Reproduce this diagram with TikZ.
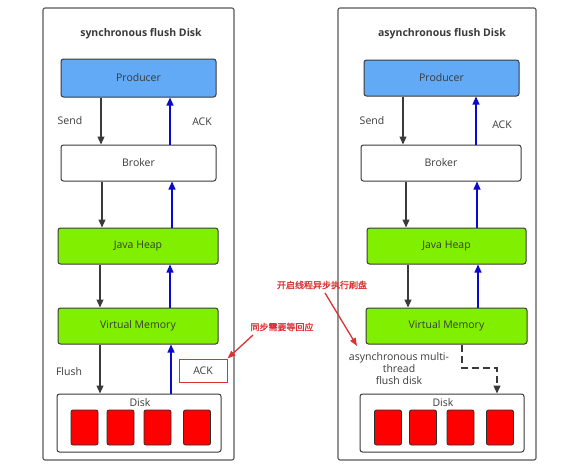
\documentclass[tikz,border=0pt]{standalone}
\usepackage{fontspec}
\setmainfont{Open Sans}
\newfontfamily\cjk[AutoFakeBold=1.5]{Noto Sans CJK SC}
\usetikzlibrary{arrows.meta, positioning, calc}

\definecolor{prodblue}{HTML}{62A9F6}
\definecolor{heapgreen}{HTML}{80F000}
\definecolor{diskred}{HTML}{FF0000}
\definecolor{ackblue}{HTML}{0A0ACC}
\definecolor{linegray}{HTML}{3A3A3A}
\definecolor{notered}{HTML}{D93333}

\tikzset{
  panel/.style={draw=linegray!85, line width=1.1pt, rounded corners=2pt},
  box/.style={draw=linegray, line width=1pt, rounded corners=2.5pt, text=linegray,
    font=\fontsize{10.5}{12}\selectfont},
  block/.style={draw=linegray!80!black, line width=0.8pt, rounded corners=2pt, fill=diskred,
    minimum width=27, minimum height=35},
  sendarrow/.style={-{Triangle[length=8pt,width=7pt,fill=linegray]}, line width=1.1pt, draw=linegray},
  ackarrow/.style={-{Triangle[length=8pt,width=7pt,fill=ackblue]}, line width=1.1pt, draw=ackblue},
  note/.style={text=notered, font=\cjk\bfseries\fontsize{9}{10}\selectfont},
  notearrow/.style={-{Triangle[length=8pt,width=6pt,fill=notered]}, line width=1.3pt, draw=notered},
  lbl/.style={text=linegray, font=\fontsize{10.5}{12}\selectfont},
  ttl/.style={text=linegray, font=\bfseries\fontsize{10.5}{12}\selectfont}
}

\begin{document}
\begin{tikzpicture}[x=1pt, y=-1pt]
  \useasboundingbox (0,0) rectangle (588,464);

  % left panel: synchronous
  \node[panel, minimum width=191, minimum height=452] (panelL) at (138.5,234) {};
  \node[ttl] (titleL) at (141,34) {synchronous flush Disk};
  \node[box, fill=prodblue, minimum width=155, minimum height=38] (prodL) at (138.5,78) {Producer};
  \node[box, fill=white, minimum width=155, minimum height=36] (brokL) at (138.5,163) {Broker};
  \node[box, fill=heapgreen, minimum width=160, minimum height=36] (heapL) at (138,246) {Java Heap};
  \node[box, fill=heapgreen, minimum width=160, minimum height=36] (vmL) at (138,326) {Virtual Memory};
  \node[box, fill=white, minimum width=164, minimum height=58] (diskL) at (139,423) {};
  \node[lbl] (disklblL) at (140,403) {Disk};
  \foreach \x [count=\i] in {84.5,120.5,157.5,197}
    \node[block] (blkL\i) at (\x,427.5) {};

  \draw[sendarrow] (prodL.south -| 101,0) -- (brokL.north -| 101,0);
  \draw[sendarrow] (brokL.south -| 102,0) -- (heapL.north -| 102,0);
  \draw[sendarrow] (heapL.south -| 100,0) -- (vmL.north -| 100,0);
  \draw[sendarrow] (vmL.south -| 100,0) -- (diskL.north -| 100,0);
  \draw[ackarrow] (brokL.north -| 170,0) -- (prodL.south -| 170,0);
  \draw[ackarrow] (heapL.north -| 172,0) -- (brokL.south -| 172,0);
  \draw[ackarrow] (vmL.north -| 170,0) -- (heapL.south -| 170,0);
  \draw[ackarrow] (diskL.north -| 171,0) -- (vmL.south -| 171,0);

  \node[lbl] (sendL) at (70,121) {Send};
  \node[lbl] (ackL) at (202,122) {ACK};
  \node[lbl] (flushL) at (69,372) {Flush};
  \node[lbl, draw=notered, line width=1pt, minimum width=48, minimum height=23] (ackbox) at (203,370.5) {ACK};

  % right panel: asynchronous
  \node[panel, minimum width=198, minimum height=452] (panelR) at (437,234) {};
  \node[ttl] (titleR) at (442,34) {asynchronous flush Disk};
  \node[box, fill=prodblue, minimum width=155, minimum height=36] (prodR) at (441.5,78) {Producer};
  \node[box, fill=white, minimum width=160, minimum height=36] (brokR) at (441,163) {Broker};
  \node[box, fill=heapgreen, minimum width=159, minimum height=36] (heapR) at (446.5,246) {Java Heap};
  \node[box, fill=heapgreen, minimum width=161, minimum height=36] (vmR) at (446.5,326) {Virtual Memory};
  \node[box, fill=white, minimum width=164, minimum height=58] (diskR) at (442,423) {};
  \node[lbl] (disklblR) at (443,403) {Disk};
  \foreach \x [count=\i] in {388,423,460.5,500}
    \node[block] (blkR\i) at (\x,427.5) {};

  \draw[sendarrow] (prodR.south -| 403,0) -- (brokR.north -| 403,0);
  \draw[sendarrow] (brokR.south -| 406,0) -- (heapR.north -| 406,0);
  \draw[sendarrow] (heapR.south -| 408,0) -- (vmR.north -| 408,0);
  \draw[ackarrow] (brokR.north -| 476,0) -- (prodR.south -| 476,0);
  \draw[ackarrow] (heapR.north -| 477,0) -- (brokR.south -| 477,0);
  \draw[ackarrow] (vmR.north -| 478,0) -- (heapR.south -| 478,0);
  \draw[sendarrow, dash pattern=on 7pt off 4pt] (vmR.south -| 462,0) -- (462,368) -- (497,368) -- (diskR.north -| 497,0);

  \node[lbl] (sendR) at (372,121) {Send};
  \node[lbl] (ackR) at (502,125) {ACK};
  \node[lbl, align=center, inner sep=0pt, font=\fontsize{10.5}{12}\selectfont] (multi) at (399,369) {asynchronous multi-\\thread\\flush disk};

  % notes
  \node[note] (syncnote) at (282,327) {同步需要等回应};
  \node[note] (asyncnote) at (322,285) {开启线程异步执行刷盘};
  \draw[notearrow] (253,335) -- (ackbox.north east);
  \draw[notearrow] (325,293) -- (357,346);
\end{tikzpicture}
\end{document}
